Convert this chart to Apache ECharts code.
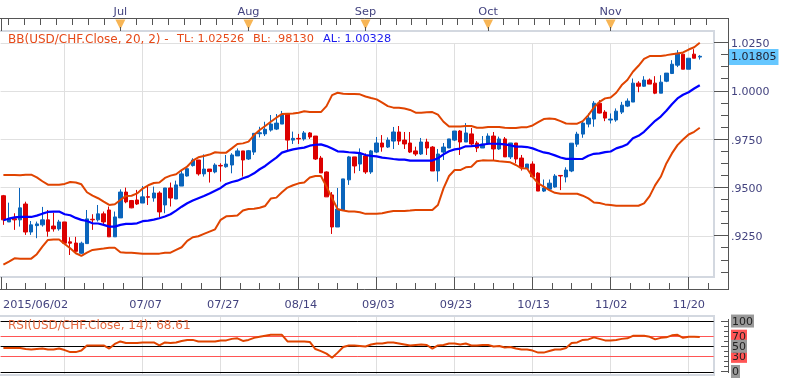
<!DOCTYPE html>
<html><head><meta charset="utf-8">
<style>html,body{margin:0;padding:0;background:#fff}#c,#o{width:786px;height:378px;position:absolute;left:0;top:0}#o{pointer-events:none}</style>
<script src="https://cdn.jsdelivr.net/npm/echarts@6/dist/echarts.min.js"></script>
</head><body><div id="c"></div><div id="o"></div>
<script>
const categories=["06/02","06/03","06/04","06/05","06/08","06/09","06/10","06/11","06/12","06/15","06/16","2015/06/02","06/18","06/19","06/22","06/23","06/24","06/25","06/26","06/29","06/30",
"07/01","07/02","07/03","07/06","07/07","07/08","07/09","07/10","07/13","07/14","07/15","07/16","07/17","07/20","07/21","07/22","07/23","07/24","07/27","07/28","07/29","07/30","07/31",
"08/03","08/04","08/05","08/06","08/07","08/10","08/11","08/12","08/13","08/14","08/17","08/18","08/19","08/20","08/21","08/24","08/25","08/26","08/27","08/28","08/31",
"09/01","09/02","09/03","09/04","09/07","09/08","09/09","09/10","09/11","09/14","09/15","09/16","09/17","09/18","09/21","09/22","09/23","09/24","09/25","09/28","09/29","09/30",
"10/01","10/02","10/05","10/06","10/07","10/08","10/09","10/12","10/13","10/14","10/15","10/16","10/19","10/20","10/21","10/22","10/23","10/26","10/27","10/28","10/29","10/30",
"11/02","11/03","11/04","11/05","11/06","11/09","11/10","11/11","11/12","11/13","11/16","11/17","11/18","11/19","11/20","11/23","11/24","11/25","11/26"];
const dateTicks=[11,25,39,53,67,81,95,109,123];
const monthStarts=[21,44,65,87,109];
const monthLabels=["Jul","Aug","Sep","Oct","Nov"];
const priceTicks=[0.925,0.95,0.975,1,1.025];
const lastPrice=1.01805;
const rsiLines=[100,70,50,30,0];

const opens=[.9458,.9322,.9339,.9333,.9415,.9270,.9303,.9307,.9333,.9301,.9286,.9322,.9219,.9213,.9160,.9210,.9336,.9333,.9364,.9384,.9245,.9343,.9477,.9433,.9436,.9420,.9453,.9446,.9472,.9410,.9498,.9441,.9508,.9560,.9614,.9643,.9571,.9596,.9581,.9615,.9608,.9617,.9664,.9690,.9648,.9684,.9779,
.9778,.9798,.9803,.9829,.9881,.9746,.9755,.9752,.9783,.9767,.9653,.9581,.9462,.9296,.9384,.9540,.9659,.9622,.9664,.9581,.9684,.9731,.9710,.9741,.9788,.9746,.9731,.9690,.9674,.9736,.9710,.9586,.9684,.9705,.9746,.9793,.9736,.9778,.9731,.9705,.9726,.9767,.9700,.9752,.9659,.9731,.9653,
.9599,.9622,.9575,.9482,.9492,.9503,.9563,.9555,.9586,.9725,.9777,.9829,.9855,.9937,.9891,.9850,.9850,.9891,.9922,.9943,1.0041,1.0025,1.0057,1.0041,.9989,1.0051,1.0091,1.0134,1.0191,1.0113,1.0191,1.0176];
const closes=[.9333,.9341,.9333,.9395,.9270,.9307,.9312,.9333,.9274,.9286,.9322,.9212,.9212,.9170,.9212,.9338,.9333,.9364,.9322,.9245,.9348,.9477,.9426,.9395,.9415,.9452,.9450,.9472,.9374,.9498,.9446,.9514,.9571,.9598,.9643,.9571,.9596,.9583,.9617,.9612,.9622,.9669,.9690,.9643,.9691,.9781,.9784,
.9802,.9829,.9834,.9881,.9746,.9755,.9752,.9783,.9762,.9648,.9576,.9452,.9296,.9389,.9545,.9659,.9612,.9674,.9581,.9690,.9731,.9710,.9746,.9788,.9741,.9726,.9684,.9674,.9736,.9705,.9586,.9674,.9710,.9752,.9793,.9736,.9783,.9726,.9705,.9726,.9767,.9700,.9752,.9659,.9731,.9648,.9605,
.9622,.9556,.9482,.9498,.9523,.9560,.9560,.9591,.9730,.9777,.9834,.9860,.9937,.9886,.9860,.9855,.9896,.9927,.9948,1.0041,1.0025,1.0057,1.0036,.9989,1.0046,1.0093,1.0139,1.0196,1.0113,1.0170,1.0170,1.0180];
const lows=[.9307,.9322,.9281,.9298,.9255,.9255,.9238,.9298,.9246,.9272,.9277,.9212,.9151,.9160,.9157,.9210,.9281,.9324,.9307,.9245,.9245,.9343,.9419,.9393,.9410,.9420,.9410,.9427,.9346,.9367,.9402,.9441,.9508,.9557,.9609,.9562,.9557,.9526,.9574,.9531,.9603,.9574,.9664,.9557,.9643,.9669,.9760,
.9767,.9790,.9798,.9829,.9686,.9726,.9726,.9743,.9752,.9643,.9576,.9452,.9260,.9296,.9384,.9514,.9574,.9586,.9571,.9571,.9679,.9686,.9705,.9700,.9721,.9700,.9679,.9664,.9669,.9669,.9586,.9531,.9643,.9705,.9741,.9669,.9736,.9721,.9684,.9705,.9721,.9638,.9695,.9659,.9648,.9626,.9588,
.9599,.9556,.9482,.9477,.9487,.9499,.9487,.9527,.9580,.9711,.9758,.9812,.9815,.9884,.9844,.9832,.9841,.9881,.9917,.9943,.9994,1.0022,1.0036,.9984,.9989,1.0046,1.0088,1.0124,1.0113,1.0113,1.0170,1.0163];
const highs=[.9462,.9422,.9367,.9498,.9427,.9327,.9324,.9400,.9384,.9370,.9333,.9322,.9243,.9245,.9220,.9384,.9362,.9410,.9376,.9402,.9376,.9491,.9500,.9436,.9488,.9508,.9508,.9505,.9481,.9498,.9526,.9536,.9591,.9609,.9652,.9643,.9672,.9596,.9626,.9626,.9669,.9678,.9703,.9690,.9695,.9781,.9815,
.9841,.9876,.9881,.9897,.9881,.9790,.9778,.9793,.9788,.9767,.9664,.9584,.9477,.9498,.9545,.9664,.9659,.9703,.9677,.9695,.9762,.9772,.9760,.9814,.9819,.9788,.9788,.9712,.9757,.9753,.9715,.9700,.9731,.9752,.9793,.9798,.9834,.9809,.9741,.9767,.9781,.9788,.9764,.9762,.9731,.9731,.9669,
.9622,.9636,.9580,.9542,.9542,.9570,.9563,.9605,.9730,.9789,.9841,.9884,.9948,.9953,.9901,.9884,.9910,.9944,.9962,1.0065,1.0051,1.0077,1.0065,1.0077,1.0082,1.0093,1.0160,1.0212,1.0195,1.0170,1.0217,1.0186];
const upperBand=[.9565,.9565,.9565,.9564,.9567,.9567,.9553,.9533,.9515,.9515,.9515,.9519,.9529,.9526,.9517,.9476,.9458,.9445,.9427,.9410,.9414,.9436,.9457,.9458,.9470,.9495,.9512,.9524,.9526,.9550,.9562,.9569,.9591,.9609,.9640,.9657,.9664,.9671,.9683,.9681,.9681,.9703,.9726,.9729,.9738,.9772,.9798,
.9819,.9841,.9862,.9881,.9883,.9884,.9888,.9895,.9891,.9891,.9891,.9922,.9979,.9991,.9986,.9985,.9985,.9983,.9972,.9964,.9957,.9940,.9922,.9914,.9914,.9910,.9902,.9888,.9888,.9890,.9891,.9878,.9841,.9816,.9816,.9817,.9819,.9819,.9810,.9810,.9814,.9814,.9814,.9810,.9809,.9809,.9812,
.9813,.9822,.9839,.9855,.9858,.9855,.9844,.9832,.9831,.9831,.9844,.9875,.9915,.9944,.9962,.9967,.9991,1.0031,1.0057,1.0100,1.0131,1.0167,1.0181,1.0182,1.0182,1.0186,1.0191,1.0195,1.0200,1.0215,1.0227,1.0250];
const midBand=[.9331,.9339,.9346,.9348,.9348,.9348,.9355,.9365,.9374,.9376,.9376,.9362,.9357,.9343,.9333,.9327,.9315,.9314,.9307,.9298,.9298,.9307,.9312,.9312,.9315,.9326,.9329,.9334,.9341,.9350,.9362,.9381,.9401,.9419,.9433,.9445,.9457,.9470,.9484,.9498,.9519,.9529,.9536,.9548,.9558,.9574,.9595,
.9612,.9634,.9655,.9681,.9690,.9698,.9703,.9707,.9717,.9722,.9724,.9715,.9702,.9688,.9686,.9683,.9681,.9679,.9669,.9664,.9662,.9655,.9652,.9648,.9645,.9645,.9640,.9640,.9640,.9640,.9640,.9652,.9672,.9688,.9698,.9702,.9714,.9715,.9717,.9722,.9727,.9727,.9726,.9724,.9719,.9712,.9712,
.9710,.9703,.9692,.9682,.9677,.9667,.9656,.9649,.9649,.9648,.9649,.9665,.9675,.9677,.9684,.9687,.9703,.9712,.9725,.9755,.9768,.9789,.9818,.9846,.9868,.9898,.9932,.9962,.9981,.9994,1.0013,1.0030];
const lowerBand=[.9101,.9117,.9134,.9132,.9132,.9132,.9155,.9194,.9229,.9231,.9231,.9208,.9186,.9160,.9146,.9163,.9177,.9181,.9184,.9188,.9188,.9165,.9163,.9162,.9160,.9157,.9157,.9157,.9158,.9163,.9163,.9177,.9191,.9224,.9243,.9248,.9260,.9272,.9284,.9333,.9351,.9353,.9355,.9381,.9389,.9391,.9396,
.9405,.9443,.9448,.9476,.9500,.9512,.9522,.9526,.9552,.9560,.9560,.9505,.9445,.9388,.9381,.9376,.9376,.9372,.9364,.9364,.9364,.9367,.9374,.9379,.9379,.9379,.9381,.9384,.9384,.9384,.9384,.9410,.9496,.9560,.9591,.9591,.9605,.9608,.9636,.9641,.9640,.9640,.9636,.9634,.9631,.9617,.9600,
.9599,.9556,.9522,.9505,.9487,.9473,.9468,.9468,.9468,.9468,.9458,.9444,.9423,.9420,.9413,.9410,.9406,.9406,.9406,.9406,.9406,.9418,.9456,.9513,.9556,.9625,.9677,.9720,.9749,.9775,.9789,.9810];
const rsi=[47,47,47,47,45,44,45,46,44,44,46,43,39,39,42,52,52,52,52,46,55,60,57,57,57,58,58,58,52,58,57,58,61,63,63,60,60,60,60,62,62,65,66,61,63,67,69,
71,73,73,73,60,60,60,60,59,45,41,36,28,38,49,52,52,51,50,54,56,56,58,58,56,54,52,53,54,53,46,52,53,56,56,54,56,52,52,53,53,50,51,48,49,46,44,
44,42,38,38,41,44,44,47,57,58,63,64,68,65,62,62,63,65,66,71,71,71,69,64,67,68,72,73,67,69,69,68.61];

const L=0.6,W=713.1;
const candle=opens.map((o,i)=>[o,closes[i],lows[i],highs[i]]);
function subdivide(){const t=[];const s=monthStarts,st=(s[1]-s[0])/8;
 for(let v=s[0]-st;v>-0.5;v-=st)t.push(v);
 for(let m=0;m<s.length-1;m++){const d=(s[m+1]-s[m])/8;for(let k=1;k<8;k++)t.push(s[m]+d*k);}
 for(let v=s[s.length-1]+2.87;v<127.5;v+=2.87)t.push(v);return t;}
const rulerTicks=subdivide();
const dateMinor=[];for(let v=dateTicks[0]-10.5;v<127.5;v+=3.5)if((v-11)%14!==0)dateMinor.push(v);
const pmin=.9037,pmax=1.0311;
const priceMinor=[];for(let v=.90625;v<1.031;v+=.00625)if(!priceTicks.some(t=>Math.abs(t-v)<1e-6))priceMinor.push(v);
const rsiMinor=[10,20,30,40,60,70,80,90];
const hide={show:false};
const tickCol='#555';
const fam='"DejaVu Sans",sans-serif';
const labelBlue='#43437f';
function line(x1,y1,x2,y2){return{type:'line',silent:true,shape:{x1,y1,x2,y2},style:{stroke:tickCol,lineWidth:1}};}
function text(x,y,t,c,size){return{type:'text',silent:true,z:50,x,y,style:{text:t,fill:c,font:(size||11.3)+'px '+fam}};}
const vline={show:true,alignWithLabel:true,interval:i=>dateTicks.includes(i),lineStyle:{color:'#dfdfdf',width:1}};
const opt={animation:false,
 grid:[
  {left:L,top:18,width:W,height:13},
  {left:L,top:31,width:W,height:246},
  {left:L,top:317,width:W,height:58},
  {left:L,top:277,width:W,height:12},
  {left:714,top:31,width:14,height:246},
  {left:714,top:317,width:14,height:58}],
 xAxis:[
  {type:'category',gridIndex:0,position:'top',data:categories,axisLine:hide,axisTick:hide,
   axisLabel:{show:true,interval:i=>monthStarts.includes(i),margin:0,fontSize:11.3,fontFamily:fam,color:labelBlue,
    formatter:(v,i)=>monthLabels[monthStarts.indexOf(i)]||''},splitLine:hide},
  {type:'category',gridIndex:1,position:'bottom',data:categories,axisLine:hide,axisTick:hide,axisLabel:hide,splitLine:vline},
  {type:'category',gridIndex:2,position:'bottom',data:categories,axisLine:hide,axisTick:hide,axisLabel:hide,splitLine:vline},
  {type:'category',gridIndex:3,position:'bottom',data:categories,axisLine:hide,axisTick:hide,splitLine:hide,
   axisLabel:{show:true,interval:i=>dateTicks.includes(i),margin:11,fontSize:11.3,fontFamily:fam,color:labelBlue,
    formatter:(v)=>v.length>5?'{f|'+v+'}{p|}':v,rich:{f:{fontSize:11.3,fontFamily:fam,color:labelBlue},p:{width:65}}}},
  {type:'value',gridIndex:4,min:0,max:1,show:false},
  {type:'value',gridIndex:5,min:0,max:1,show:false}],
 yAxis:[
  {type:'value',gridIndex:0,min:0,max:1,show:false},
  {type:'value',gridIndex:1,position:'right',min:pmin,max:pmax,axisLine:hide,axisLabel:hide,
   axisTick:{show:false,customValues:priceTicks},splitLine:{show:true,lineStyle:{color:'#e0e0e0',width:1}}},
  {type:'value',gridIndex:2,position:'right',min:-6,max:108,show:false},
  {type:'value',gridIndex:3,min:0,max:1,show:false},
  {type:'value',gridIndex:4,position:'right',min:pmin,max:pmax,axisLine:hide,splitLine:hide,axisTick:hide,
   axisLabel:{show:true,customValues:priceTicks,margin:2,fontSize:11,fontFamily:fam,color:labelBlue,
    formatter:v=>'{t|'+v.toFixed(4).replace(/^0/,'')+'}',
    rich:{t:{color:labelBlue,fontSize:11,fontFamily:fam,padding:[3,0,0,1]}}}},
  {type:'value',gridIndex:5,position:'right',min:-6,max:108,axisLine:hide,splitLine:hide,axisTick:hide,
   axisLabel:{show:true,customValues:[100,70,30,50,0],margin:3,fontSize:11,fontFamily:fam,color:'#222',
    formatter:v=>((v===70||v===30)?'{r|':'{g|')+v+'}',
    rich:{r:{backgroundColor:'#ff5555',color:'#222',fontSize:11,fontFamily:fam,padding:[2,1,0,1]},g:{backgroundColor:'#999',color:'#222',fontSize:11,fontFamily:fam,padding:[2,1,0,1]}}}}],
 series:[
  {type:'scatter',xAxisIndex:0,yAxisIndex:0,z:5,silent:true,symbol:'triangle',symbolRotate:180,symbolSize:[10,10],
   itemStyle:{color:'#f5a32a'},data:monthStarts.map(i=>[i,0.5])},
  {type:'candlestick',xAxisIndex:1,yAxisIndex:1,z:3,barWidth:4,data:candle,
   itemStyle:{color:'#0a64bb',color0:'#dc0000',borderColor:'#0a64bb',borderColor0:'#dc0000',borderWidth:1}},
  {type:'line',xAxisIndex:1,yAxisIndex:1,z:6,data:upperBand,symbol:'none',lineStyle:{color:'#e04400',width:2}},
  {type:'line',xAxisIndex:1,yAxisIndex:1,z:5,data:midBand,symbol:'none',lineStyle:{color:'#0000ff',width:2.2}},
  {type:'line',xAxisIndex:1,yAxisIndex:1,z:6,data:lowerBand,symbol:'none',lineStyle:{color:'#e04400',width:2}},
  {type:'line',xAxisIndex:2,yAxisIndex:2,z:2,data:[],symbol:'none',silent:true,
   markLine:{silent:true,symbol:'none',animation:false,label:hide,
    data:rsiLines.map(v=>({yAxis:v,lineStyle:{color:(v===70||v===30)?'#ff5555':'#000',width:1,type:'solid'}}))}},
  {type:'line',xAxisIndex:2,yAxisIndex:2,z:6,data:rsi,symbol:'none',lineStyle:{color:'#e04400',width:2}}],
 graphic:[
  {type:'rect',silent:true,z:1,shape:{x:0,y:32,width:713,height:11},style:{fill:'#fff'}},
  {type:'rect',silent:true,z:1,shape:{x:-4,y:31,width:718,height:246},style:{fill:'none',stroke:'#d3d8e0',lineWidth:2}},
  {type:'rect',silent:true,z:1,shape:{x:-4,y:316,width:718,height:59},style:{fill:'none',stroke:'#d3d8e0',lineWidth:2}},
  text(8,34,'BB(USD/CHF.Close, 20, 2) -','#e64a19',12),
  text(177,34,'TL: 1.02526','#e64a19'),
  text(253,34,'BL: .98130','#e64a19'),
  text(323,34,'AL: 1.00328','#1a1aee'),
  {type:'text',silent:true,z:50,x:8,y:320,style:{text:'RSI(USD/CHF.Close, 14): 68.61',fill:'#e4683f',font:'12px '+fam}}
 ]};
const chart=echarts.init(document.getElementById('c'),null,{renderer:'canvas'});
chart.setOption(opt);
// Ruler ticks and frame lines: positions come from the main chart's own axis scales.
const x0=chart.convertToPixel({xAxisIndex:1},0), step=chart.convertToPixel({xAxisIndex:1},1)-x0;
const xAt=v=>Math.floor(x0+v*step)+.5;
const yPrice=v=>Math.floor(chart.convertToPixel({yAxisIndex:1},v))+.5;
const yRsi=v=>Math.floor(chart.convertToPixel({yAxisIndex:2},v))+.5;
const rulerLines=[
 line(0,18.5,728.5,18.5),line(0,289.5,728.5,289.5),line(728.5,18,728.5,290),line(728.5,319,728.5,373),
 line(1.5,18,1.5,31),line(1.5,277,1.5,289),
 ...rulerTicks.map(v=>line(xAt(v),19,xAt(v),25)),
 ...monthStarts.map(v=>line(xAt(v),27,xAt(v),31)),
 ...dateMinor.map(v=>line(xAt(v),283,xAt(v),289)),
 ...dateTicks.map(v=>line(xAt(v),277,xAt(v),289)),
 ...priceTicks.map(v=>line(714,yPrice(v),728,yPrice(v))),
 ...priceMinor.map(v=>line(721,yPrice(v),728,yPrice(v))),
 ...[0,50,100].map(v=>line(721,yRsi(v),728,yRsi(v))),
 ...rsiMinor.map(v=>line(724,yRsi(v),728,yRsi(v)))];
const priceTag={type:'text',silent:true,z:50,x:729,y:yPrice(lastPrice)-7.5,
 style:{text:lastPrice.toFixed(5),fill:'#223',font:'11px '+fam,backgroundColor:'#66c7ff',padding:[3,2,2,2]}};
chart.setOption({graphic:opt.graphic.concat([priceTag])});
const overlay=echarts.init(document.getElementById('o'),null,{renderer:'canvas'});
overlay.setOption({animation:false,graphic:rulerLines});
</script></body></html>
